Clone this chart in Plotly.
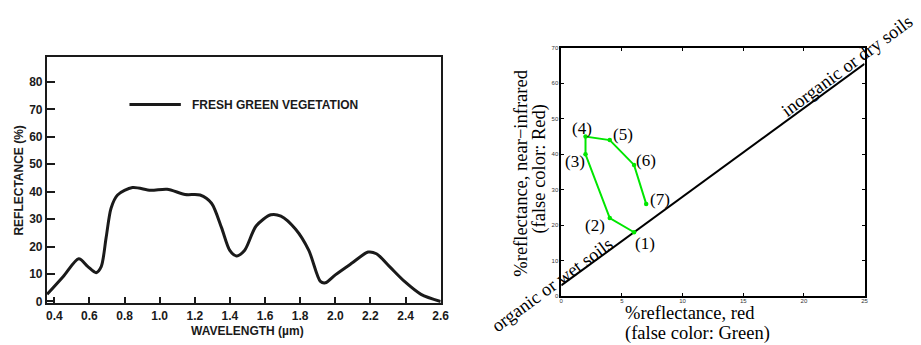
import plotly.graph_objects as go

# ---- data: left chart (spectral reflectance of fresh green vegetation) ----
wavelength = [0.359, 0.451, 0.539, 0.591, 0.638, 0.667, 0.695, 0.723, 0.760, 0.845,
              0.948, 1.042, 1.145, 1.230, 1.295, 1.352, 1.399, 1.436, 1.483, 1.549,
              1.633, 1.690, 1.774, 1.849, 1.915, 1.943, 2.000, 2.093, 2.187, 2.234,
              2.309, 2.394, 2.488, 2.600]
reflectance = [2.6, 9.1, 15.6, 12.7, 10.5, 12.7, 23.3, 34.0, 38.8, 41.5,
               40.5, 40.9, 39.0, 38.8, 35.8, 26.9, 18.6, 16.6, 18.6, 27.5,
               31.6, 31.1, 26.3, 18.6, 7.3, 6.8, 9.7, 13.9, 18.0, 17.4,
               12.7, 7.3, 2.6, 0.0]
x_ticks_left = [0.4, 0.6, 0.8, 1.0, 1.2, 1.4, 1.6, 1.8, 2.0, 2.2, 2.4, 2.6]
y_ticks_left = [0, 10, 20, 30, 40, 50, 60, 70, 80]
legend_label = "FRESH GREEN VEGETATION"

# ---- data: right chart (red / NIR feature space) ----
red_pct = [6, 4, 2, 2, 4, 6, 7]
nir_pct = [18, 22, 40, 45, 44, 37, 26]
point_labels = ["(1)", "(2)", "(3)", "(4)", "(5)", "(6)", "(7)"]
soil_red = [0, 25]
soil_nir = [3, 65.5]
x_ticks_right = [0, 5, 10, 15, 20, 25]
y_ticks_right = [0, 10, 20, 30, 40, 50, 60, 70]

W, H = 921, 345
def px(x):
    return x / W
def py(y):
    return 1 - y / H

SANS = "Liberation Sans, Arial, Helvetica, sans-serif"
SERIF = "Liberation Serif, Times New Roman, serif"
INK = "#1a1a1a"
GREEN = "rgb(0,230,0)"

fig = go.Figure()

fig.add_trace(go.Scatter(
    x=wavelength, y=reflectance, mode="lines",
    line=dict(color=INK, width=3, shape="spline", smoothing=0.8),
    name=legend_label, xaxis="x", yaxis="y", showlegend=False,
))

fig.add_trace(go.Scatter(
    x=soil_red, y=soil_nir, mode="lines",
    line=dict(color="black", width=2),
    xaxis="x2", yaxis="y2", showlegend=False,
))
fig.add_trace(go.Scatter(
    x=red_pct, y=nir_pct, mode="lines+markers",
    line=dict(color=GREEN, width=2),
    marker=dict(color=GREEN, size=4.5),
    xaxis="x2", yaxis="y2", showlegend=False,
))

# point labels, offset from each point
label_shifts = [(11, -11), (-15, -7), (-11, -7), (-4, 8), (13, 6), (12, 4), (14, 4)]
annotations = []
for xv, yv, lab, (dx, dy) in zip(red_pct, nir_pct, point_labels, label_shifts):
    annotations.append(dict(
        x=xv, y=yv, xref="x2", yref="y2", text=lab, showarrow=False,
        xshift=dx, yshift=dy, font=dict(family=SERIF, size=17, color="black"),
        xanchor="center", yanchor="middle",
    ))

# left chart texts
annotations += [
    dict(x=px(190), y=py(104), xref="paper", yref="paper", text=legend_label,
         showarrow=False, xanchor="left", yanchor="middle",
         font=dict(family=SANS, size=12, color=INK, weight="bold")),
    dict(x=px(248), y=py(336), xref="paper", yref="paper", text="WAVELENGTH (µm)",
         showarrow=False, xanchor="center", yanchor="middle",
         font=dict(family=SANS, size=12, color=INK, weight="bold")),
    dict(x=px(17), y=py(182), xref="paper", yref="paper", text="REFLECTANCE (%)",
         showarrow=False, xanchor="center", yanchor="middle", textangle=-90,
         font=dict(family=SANS, size=12, color=INK, weight="bold")),
]

# right chart texts
annotations += [
    dict(x=px(629), y=py(317.5), xref="paper", yref="paper", text="%reflectance, red",
         showarrow=False, xanchor="left", yanchor="middle",
         font=dict(family=SERIF, size=18.5, color="black")),
    dict(x=px(629), y=py(338), xref="paper", yref="paper", text="(false color: Green)",
         showarrow=False, xanchor="left", yanchor="middle",
         font=dict(family=SERIF, size=18.5, color="black")),
    dict(x=px(525), y=py(174), xref="paper", yref="paper", text="%reflectance, near\u2212infrared",
         showarrow=False, xanchor="center", yanchor="middle", textangle=-90,
         font=dict(family=SERIF, size=18.5, color="black")),
    dict(x=px(544), y=py(170), xref="paper", yref="paper", text="(false color: Red)",
         showarrow=False, xanchor="center", yanchor="middle", textangle=-90,
         font=dict(family=SERIF, size=18.5, color="black")),
    dict(x=px(557), y=py(289), xref="paper", yref="paper", text="organic or wet soils",
         showarrow=False, xanchor="center", yanchor="middle", textangle=-36.3,
         font=dict(family=SERIF, size=18.5, color="black")),
    dict(x=px(855), y=py(64), xref="paper", yref="paper", text="inorganic or dry soils",
         showarrow=False, xanchor="center", yanchor="middle", textangle=-36.3,
         font=dict(family=SERIF, size=18.5, color="black")),
]

shapes = [
    dict(type="line", xref="paper", yref="paper",
         x0=px(129), x1=px(181), y0=py(104), y1=py(104),
         line=dict(color=INK, width=3)),
]

fig.update_layout(
    width=W, height=H,
    margin=dict(l=0, r=0, t=0, b=0),
    paper_bgcolor="white", plot_bgcolor="white",
    showlegend=False,
    annotations=annotations,
    shapes=shapes,
    xaxis=dict(
        domain=[px(45.5), px(444)], range=[0.358, 2.6],
        tickvals=x_ticks_left, tickformat=".1f",
        ticks="inside", ticklen=6, tickwidth=1.5, tickcolor=INK,
        showline=True, linecolor=INK, linewidth=2, mirror=True,
        showgrid=False, zeroline=False,
        tickfont=dict(family=SANS, size=12, color=INK, weight="bold"),
        anchor="y",
    ),
    yaxis=dict(
        domain=[py(307.5), py(55)], range=[-0.7, 89.2],
        tickvals=y_ticks_left,
        ticks="inside", ticklen=8, tickwidth=1.5, tickcolor=INK,
        showline=True, linecolor=INK, linewidth=2, mirror=True,
        showgrid=False, zeroline=False,
        tickfont=dict(family=SANS, size=12, color=INK, weight="bold"),
        anchor="x",
    ),
    xaxis2=dict(
        domain=[px(566), px(873)], range=[0, 25],
        tickvals=x_ticks_right,
        ticks="inside", ticklen=3, tickwidth=1, tickcolor="black",
        showline=True, linecolor="black", linewidth=1.5, mirror="ticks",
        showgrid=False, zeroline=False,
        ticklabelstandoff=-2,
        tickfont=dict(family=SANS, size=6, color="#333"),
        anchor="y2",
    ),
    yaxis2=dict(
        domain=[py(300), py(46)], range=[0, 70],
        tickvals=y_ticks_right,
        ticks="inside", ticklen=3, tickwidth=1, tickcolor="black",
        showline=True, linecolor="black", linewidth=1.5, mirror="ticks",
        showgrid=False, zeroline=False,
        tickfont=dict(family=SANS, size=6, color="#333"),
        anchor="x2",
    ),
)

fig.write_html(
    "out.html",
    config={"displayModeBar": False},
    post_script="document.body.style.margin='0';document.body.style.overflow='hidden';",
)
